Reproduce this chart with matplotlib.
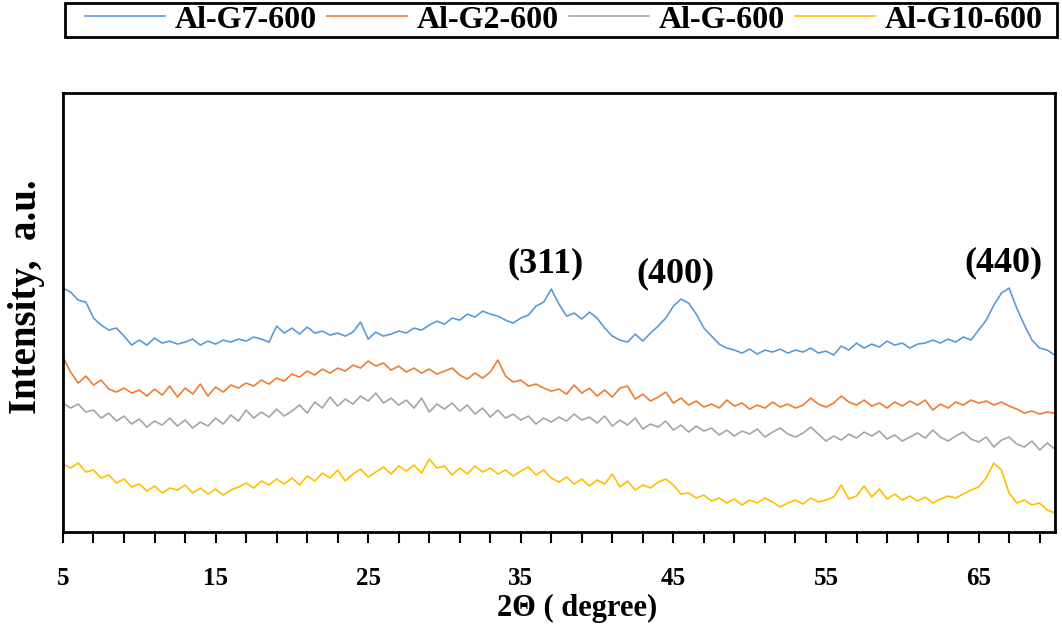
import matplotlib
matplotlib.use("Agg")
import matplotlib.pyplot as plt
from matplotlib.patches import Rectangle
import numpy as np

# 2-theta axis, 0.5 degree steps
two_theta = np.arange(5.0, 70.01, 0.5)

# intensities (a.u.)
al_g7_600 = [244, 240, 232, 230, 214, 207, 202, 204, 196, 187, 192, 187, 194, 189, 191, 188, 190, 193, 187, 191,
             188, 192, 190, 193, 191, 195, 193, 190, 206, 199, 204, 198, 205, 199, 201, 197, 199, 196, 200, 210,
             193, 200, 196, 198, 201, 199, 204, 202, 207, 211, 208, 214, 212, 218, 215, 221, 218, 216, 212, 209,
             214, 217, 226, 230, 243, 228, 216, 219, 213, 220, 214, 204, 196, 192, 190, 198, 191, 199, 206, 214,
             226, 233, 229, 218, 204, 196, 188, 184, 182, 179, 183, 178, 182, 180, 183, 179, 182, 180, 184, 179,
             181, 177, 186, 182, 189, 184, 188, 185, 191, 187, 189, 184, 188, 189, 192, 189, 193, 190, 195, 192,
             202, 212, 227, 239, 244, 224, 207, 192, 184, 182, 177]
al_g2_600 = [175, 160, 149, 156, 147, 152, 143, 140, 144, 139, 142, 136, 143, 137, 146, 135, 144, 138, 148, 136,
             145, 140, 147, 144, 149, 146, 152, 148, 154, 151, 158, 155, 161, 157, 163, 159, 164, 161, 167, 164,
             171, 166, 169, 162, 166, 160, 164, 159, 163, 158, 161, 164, 157, 153, 159, 154, 160, 172, 156, 150,
             152, 146, 148, 144, 141, 143, 138, 147, 139, 144, 136, 142, 135, 144, 146, 133, 138, 131, 135, 140,
             129, 134, 127, 131, 125, 128, 124, 132, 126, 129, 123, 127, 124, 130, 125, 128, 124, 127, 134, 128,
             125, 129, 136, 130, 127, 132, 126, 129, 124, 130, 126, 131, 127, 132, 122, 128, 124, 130, 127, 132,
             129, 131, 127, 130, 126, 123, 119, 121, 118, 120, 119]
al_g_600 = [129, 124, 128, 120, 122, 114, 119, 111, 116, 108, 113, 105, 111, 107, 114, 106, 112, 104, 110, 106,
            114, 108, 117, 111, 122, 114, 120, 115, 123, 116, 121, 127, 119, 130, 124, 135, 126, 133, 128, 136,
            131, 139, 129, 134, 127, 132, 124, 134, 120, 128, 123, 129, 121, 127, 118, 124, 115, 122, 114, 118,
            112, 116, 108, 114, 110, 115, 111, 118, 112, 115, 109, 116, 106, 112, 107, 114, 103, 108, 105, 111,
            102, 107, 100, 106, 101, 104, 97, 102, 96, 101, 98, 103, 95, 100, 104, 98, 95, 99, 105, 98,
            91, 96, 92, 98, 94, 100, 96, 101, 93, 97, 91, 95, 99, 94, 102, 95, 91, 96, 100, 93,
            90, 95, 85, 92, 95, 88, 85, 91, 82, 89, 83]
al_g10_600 = [68, 64, 69, 60, 62, 54, 57, 49, 53, 45, 48, 41, 46, 39, 44, 42, 47, 39, 44, 38,
              43, 37, 42, 45, 49, 44, 51, 47, 53, 48, 54, 47, 56, 51, 59, 54, 62, 51, 58, 63,
              55, 60, 65, 58, 66, 61, 67, 59, 73, 64, 66, 57, 64, 58, 66, 60, 64, 58, 62, 56,
              61, 65, 57, 62, 54, 50, 55, 48, 53, 46, 52, 48, 58, 45, 51, 42, 47, 44, 50, 53,
              47, 38, 39, 34, 37, 31, 34, 29, 33, 27, 32, 29, 34, 30, 25, 29, 32, 28, 34, 30,
              32, 35, 47, 33, 36, 46, 35, 43, 33, 38, 32, 36, 31, 35, 29, 33, 36, 34, 38, 42,
              45, 54, 69, 62, 39, 29, 32, 27, 29, 22, 19]

labels = ["Al-G7-600", "Al-G2-600", "Al-G-600", "Al-G10-600"]
colors = ["#5B9BD5", "#ED7D31", "#A5A5A5", "#FFC000"]
series = [al_g7_600, al_g2_600, al_g_600, al_g10_600]

# planes marked on the Al-G7-600 peaks
peak_labels = ["(311)", "(400)", "(440)"]
peak_pos = [37.0, 45.5, 67.0]

plt.rcParams['font.family'] = ['Liberation Serif', 'DejaVu Serif']
plt.rcParams['font.weight'] = 'bold'

fig = plt.figure(figsize=(10.62, 6.36), dpi=100, facecolor='white')
ax = fig.add_axes([0.0593, 0.1635, 0.934, 0.690])

lines = []
for y, lab, c in zip(series, labels, colors):
    ln, = ax.plot(two_theta, y, color=c, lw=1.2, label=lab)
    lines.append(ln)

ax.set_xlim(5, 70)
ax.set_ylim(0, 439)
ax.set_yticks([])

# every 2 degrees a tick, a label every 10
ticks = np.arange(5, 70, 2)
ax.set_xticks(ticks)
ax.set_xticklabels([str(t) if (t - 5) % 10 == 0 else "" for t in ticks], fontsize=18, fontweight='bold')
ax.tick_params(axis='x', direction='out', length=8, width=1.5, pad=17)

for s in ax.spines.values():
    s.set_linewidth(2)
    s.set_color('black')

ax.set_xlabel("2Θ ( degree)", fontsize=22, fontweight='bold', labelpad=3, x=0.518)
ax.set_ylabel("Intensity,  a.u.", fontsize=28, fontweight='bold', labelpad=13, y=0.536)

for lab, xp in zip(peak_labels, peak_pos):
    i = int(round((xp - 5.0) / 0.5))
    ax.annotate(lab, xy=(xp, al_g7_600[i]), xytext=(-4, 6), textcoords='offset points',
                ha='center', va='bottom', fontsize=26, fontweight='bold')

# legend strip on top: frame drawn on its own, entries spread inside
fig.patches.append(Rectangle((0.0612, 0.942), 0.9345, 0.0535, transform=fig.transFigure,
                             fill=False, edgecolor='black', linewidth=2))
leg = fig.legend(handles=lines, loc='center', ncol=4, mode='expand',
                 bbox_to_anchor=(0.080, 0.942, 0.902, 0.0535), frameon=False,
                 fontsize=23, handlelength=2.5, borderaxespad=0,
                 borderpad=0.0, columnspacing=0.8, handletextpad=0.3)

fig.savefig("out.png", dpi=100, facecolor='white')
